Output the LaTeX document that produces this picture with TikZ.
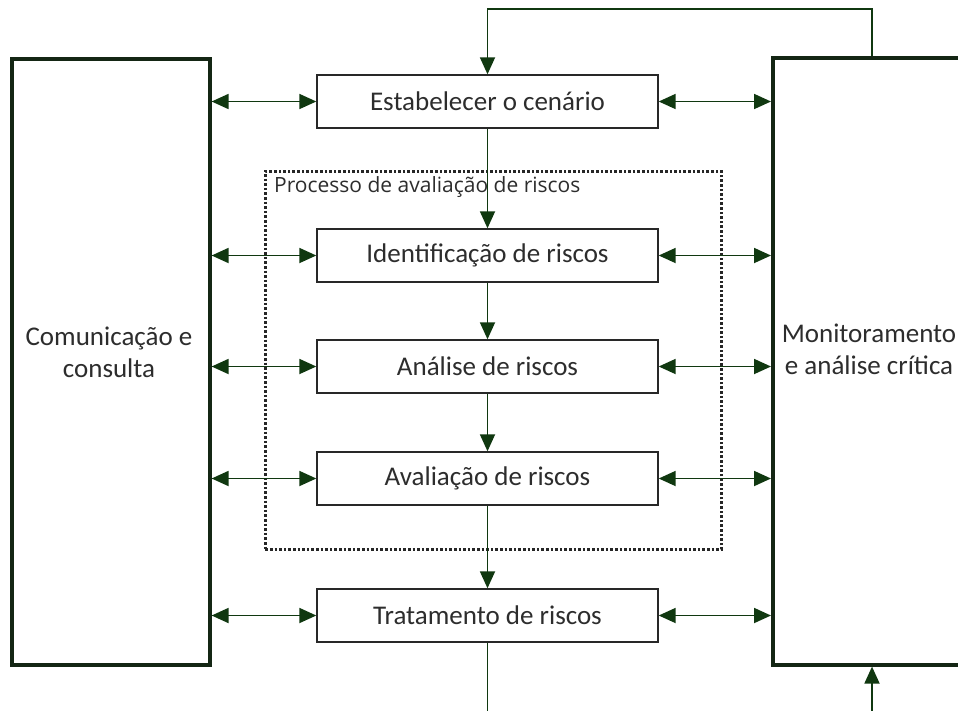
\documentclass[tikz,border=0pt]{standalone}
\usepackage{fontspec}
\setmainfont{Carlito}
\newfontfamily\labelfont{Open Sans}
\usetikzlibrary{arrows.meta}
\definecolor{arr}{RGB}{16,56,16}
\definecolor{side}{RGB}{20,38,20}
\definecolor{txt}{RGB}{45,45,45}
\definecolor{bord}{RGB}{40,40,40}
\begin{document}
\begin{tikzpicture}[x=1pt,y=-1pt,
  stepbox/.style={draw=bord, fill=white, line width=1.4pt, minimum width=341pt, minimum height=53pt, inner sep=0pt, font=\fontsize{27}{32}\selectfont, text=txt},
  sidebox/.style={draw=side, line width=3.6pt, inner sep=0pt},
  sidetext/.style={font=\fontsize{27}{32}\selectfont, text=txt, align=center, inner sep=0pt},
  conn/.style={draw=arr, line width=1.8pt},
  tip/.style={-{Triangle[length=17pt,width=15pt]}},
  both/.style={{Triangle[length=17pt,width=15pt]}-{Triangle[length=17pt,width=15pt]}},
  dotbox/.style={draw=black!85, line width=2.8pt, dash pattern=on 2.6pt off 2.0pt, inner sep=0pt}
]
\clip (0,0) rectangle (958,710);
\fill[white] (0,0) rectangle (958,710);

% dotted process frame
\node[dotbox, minimum width=456pt, minimum height=378pt, anchor=north west] (proc) at (264,170) {};
\node[anchor=west, inner sep=0pt, text=txt, font=\labelfont\fontsize{21}{24}\selectfont] (proclbl) at (274,187) {Processo de avaliação de riscos};

% side boxes
\node[sidebox, minimum width=198pt, minimum height=606pt, anchor=north west] (comm) at (10,57) {};
\node[sidetext] (commtxt) at (109,352) {Comunicação e\\consulta};
\node[sidebox, minimum width=196pt, minimum height=607pt, anchor=north west] (mon) at (771,56) {};
\node[sidetext] (montxt) at (869,349) {Monitoramento\\e análise crítica};

% step boxes
\node[stepbox] (est)   at (487.5,101.5) {Estabelecer o cenário};
\node[stepbox] (ident) at (487.5,255.5) {Identificação de riscos};
\node[stepbox] (anal)  at (487.5,366.5) {Análise de riscos};
\node[stepbox] (aval)  at (487.5,478.5) {Avaliação de riscos};
\node[stepbox] (trat)  at (487.5,615.5) {Tratamento de riscos};

% vertical flow
\draw[conn,tip] (est.south) -- (ident.north);
\draw[conn,tip] (ident.south) -- (anal.north);
\draw[conn,tip] (anal.south) -- (aval.north);
\draw[conn,tip] (aval.south) -- (trat.north);

% top loop
\coordinate (topR) at (872,9);
\draw[conn,tip] (mon.north -| topR) -- (topR) -| (est.north);

% bottom loop (leaves the frame)
\coordinate (botL) at (487.5,712);
\coordinate (botR) at (872,712);
\draw[conn] (trat.south) -- (botL);
\draw[conn,tip] (botR) -- (mon.south -| botR);

% two-way arrows to the side boxes
\foreach \n in {est,ident,anal,aval,trat}{
  \draw[conn,both] (comm.east |- \n.west) -- (\n.west);
  \draw[conn,both] (\n.east) -- (mon.west |- \n.east);
}
\end{tikzpicture}
\end{document}
